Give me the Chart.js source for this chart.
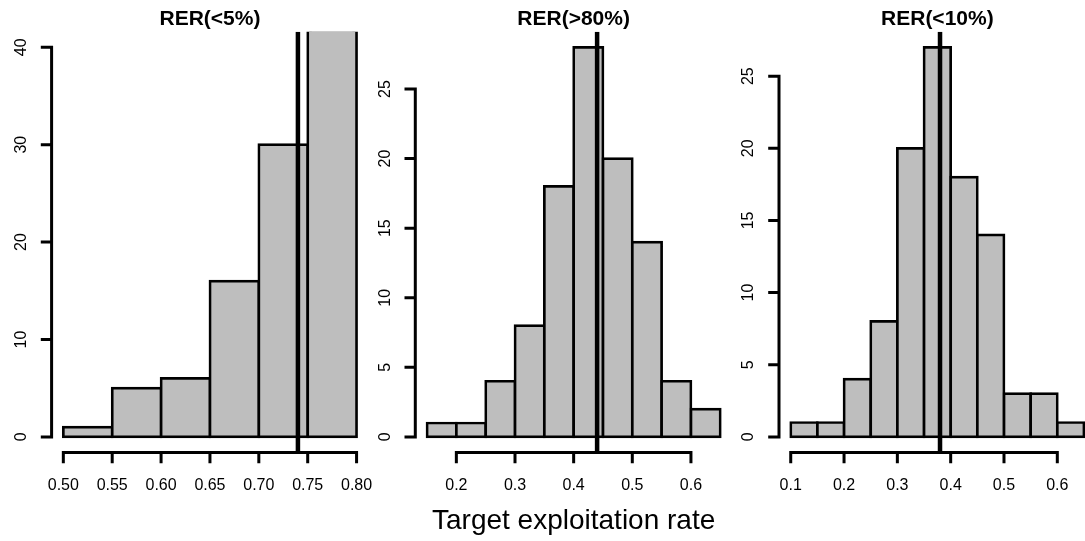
<!DOCTYPE html>
<html>
<head>
<meta charset="utf-8">
<script src="https://cdn.jsdelivr.net/npm/chart.js@4.4.1/dist/chart.umd.min.js"></script>
<style>
  html, body { margin: 0; padding: 0; background: #ffffff; width: 1085px; height: 541px; overflow: hidden; }
  #wrap { position: relative; width: 1085px; height: 541px; overflow: hidden; }
  #wrap canvas { position: absolute; left: 0; top: 0; }
</style>
</head>
<body>
<div id="wrap">
  <canvas id="c1" width="1110" height="541"></canvas>
  <canvas id="c2" width="1110" height="541"></canvas>
  <canvas id="c3" width="1110" height="541"></canvas>
</div>
<script>
// ---------------- DATA ----------------
const panelTitles = ['RER(<5%)', 'RER(>80%)', 'RER(<10%)'];
const xAxisTitle = 'Target exploitation rate';

const breaks1 = [0.50, 0.55, 0.60, 0.65, 0.70, 0.75, 0.80];
const counts1 = [1, 5, 6, 16, 30, 42];
const breaks2 = [0.15, 0.20, 0.25, 0.30, 0.35, 0.40, 0.45, 0.50, 0.55, 0.60, 0.65];
const counts2 = [1, 1, 4, 8, 18, 28, 20, 14, 4, 2];
const breaks3 = [0.10, 0.15, 0.20, 0.25, 0.30, 0.35, 0.40, 0.45, 0.50, 0.55, 0.60, 0.65];
const counts3 = [1, 1, 4, 8, 20, 27, 18, 14, 3, 3, 1];

const refValues = [0.74, 0.44, 0.38];

const xTicks1 = [0.50, 0.55, 0.60, 0.65, 0.70, 0.75, 0.80];
const xTickLabels1 = ['0.50', '0.55', '0.60', '0.65', '0.70', '0.75', '0.80'];
const xTicks2 = [0.2, 0.3, 0.4, 0.5, 0.6];
const xTickLabels2 = ['0.2', '0.3', '0.4', '0.5', '0.6'];
const xTicks3 = [0.1, 0.2, 0.3, 0.4, 0.5, 0.6];
const xTickLabels3 = ['0.1', '0.2', '0.3', '0.4', '0.5', '0.6'];

const yTicks1 = [0, 10, 20, 30, 40];
const yTicks2 = [0, 5, 10, 15, 20, 25];
const yTicks3 = [0, 5, 10, 15, 20, 25];

// axis ranges (R style: limits extended by 4%)
const xRange1 = [0.488, 0.812], yRange1 = [-1.6, 41.6];
const xRange2 = [0.13, 0.67],   yRange2 = [-1.12, 29.12];
const xRange3 = [0.078, 0.672], yRange3 = [-1.08, 28.08];

// ---------------- LAYOUT / STYLE ----------------
const CW = 1110, CH = 541;
const plotTop = 31.7, plotBottom = 452.5;
const plotLefts = [51.6, 415.3, 779];
const plotWidth = 316.7;
const FONT = '"Liberation Sans", Arial, Helvetica, sans-serif';
const BAR_FILL = '#bebebe';
const BAR_BORDER = 2.7;
const AXIS_LW = 3;
const TICK_LEN = 10.8;
const titleCenterY = 19.5;
const xLabelCenterY = 521;

Chart.defaults.font.family = FONT;

function mids(b) {
  const out = [];
  for (let i = 0; i < b.length - 1; i++) out.push((b[i] + b[i + 1]) / 2);
  return out;
}

function axesPlugin(p) {
  return {
    id: 'rAxes' + p.id,
    afterDraw(chart) {
      const { ctx, chartArea: a } = chart;
      const xs = chart.scales.x, ys = chart.scales.y;
      ctx.save();
      ctx.strokeStyle = '#000';
      ctx.fillStyle = '#000';
      ctx.lineWidth = AXIS_LW;
      ctx.lineJoin = 'miter';
      ctx.lineCap = 'butt';
      // x axis
      const xp = p.xTicks.map(v => xs.getPixelForValue(v));
      const yb = a.bottom;
      ctx.beginPath();
      ctx.moveTo(xp[0], yb + TICK_LEN);
      ctx.lineTo(xp[0], yb);
      ctx.lineTo(xp[xp.length - 1], yb);
      ctx.lineTo(xp[xp.length - 1], yb + TICK_LEN);
      for (let i = 1; i < xp.length - 1; i++) {
        ctx.moveTo(xp[i], yb);
        ctx.lineTo(xp[i], yb + TICK_LEN);
      }
      ctx.stroke();
      ctx.font = '16px ' + FONT;
      ctx.textAlign = 'center';
      ctx.textBaseline = 'middle';
      p.xLabels.forEach((t, i) => ctx.fillText(t, xp[i], yb + 33));
      // y axis
      const yp = p.yTicks.map(v => ys.getPixelForValue(v));
      const xl = a.left;
      ctx.beginPath();
      ctx.moveTo(xl - TICK_LEN, yp[0]);
      ctx.lineTo(xl, yp[0]);
      ctx.lineTo(xl, yp[yp.length - 1]);
      ctx.lineTo(xl - TICK_LEN, yp[yp.length - 1]);
      for (let i = 1; i < yp.length - 1; i++) {
        ctx.moveTo(xl, yp[i]);
        ctx.lineTo(xl - TICK_LEN, yp[i]);
      }
      ctx.stroke();
      p.yTicks.forEach((v, i) => {
        ctx.save();
        ctx.translate(xl - 30, yp[i]);
        ctx.rotate(-Math.PI / 2);
        ctx.fillText(String(v), 0, 0);
        ctx.restore();
      });
      ctx.restore();
    }
  };
}

const panels = [
  { id: 1, canvas: 'c1', title: panelTitles[0], breaks: breaks1, counts: counts1, ref: refValues[0],
    xTicks: xTicks1, xLabels: xTickLabels1, yTicks: yTicks1, xRange: xRange1, yRange: yRange1, left: plotLefts[0], xlab: false },
  { id: 2, canvas: 'c2', title: panelTitles[1], breaks: breaks2, counts: counts2, ref: refValues[1],
    xTicks: xTicks2, xLabels: xTickLabels2, yTicks: yTicks2, xRange: xRange2, yRange: yRange2, left: plotLefts[1], xlab: true },
  { id: 3, canvas: 'c3', title: panelTitles[2], breaks: breaks3, counts: counts3, ref: refValues[2],
    xTicks: xTicks3, xLabels: xTickLabels3, yTicks: yTicks3, xRange: xRange3, yRange: yRange3, left: plotLefts[2], xlab: false }
];

panels.forEach(p => {
  const m = mids(p.breaks);
  const barData = p.counts.map((c, i) => ({ x: m[i], y: c }));
  const lineData = [{ x: p.ref, y: p.yRange[0] }, { x: p.ref, y: p.yRange[1] }];

  const titleLH = 1.1, titleSize = 21;
  const titlePadTop = titleCenterY - titleSize * titleLH / 2;
  const titlePadBottom = plotTop - titlePadTop - titleSize * titleLH;

  const subSize = 28, subLH = 1.2;
  const subPadTop = xLabelCenterY - plotBottom - subSize * subLH / 2;
  const bottomPad = p.xlab ? (CH - xLabelCenterY - subSize * subLH / 2) : (CH - plotBottom);

  new Chart(document.getElementById(p.canvas), {
    type: 'bar',
    data: {
      datasets: [
        {
          type: 'line',
          data: lineData,
          borderColor: '#000',
          borderWidth: 4.5,
          pointRadius: 0,
          fill: false,
          clip: 0,
          order: 0
        },
        {
          type: 'bar',
          data: barData,
          backgroundColor: BAR_FILL,
          borderColor: '#000',
          borderWidth: BAR_BORDER,
          borderSkipped: false,
          inflateAmount: BAR_BORDER / 2,
          barPercentage: 1,
          categoryPercentage: 1,
          clip: 0,
          order: 1
        }
      ]
    },
    options: {
      responsive: false,
      animation: false,
      devicePixelRatio: 1,
      events: [],
      layout: {
        autoPadding: false,
        padding: { left: p.left, right: CW - p.left - plotWidth, top: 0, bottom: bottomPad }
      },
      scales: {
        x: {
          type: 'linear',
          display: false,
          offset: false,
          min: p.xRange[0],
          max: p.xRange[1],
          afterBuildTicks: s => { s.ticks = p.xTicks.map(v => ({ value: v })); }
        },
        y: {
          type: 'linear',
          display: false,
          min: p.yRange[0],
          max: p.yRange[1]
        }
      },
      plugins: {
        legend: { display: false },
        tooltip: { enabled: false },
        title: {
          display: true,
          text: p.title,
          color: '#000',
          font: { family: FONT, size: titleSize, weight: 'bold', lineHeight: titleLH },
          padding: { top: titlePadTop, bottom: titlePadBottom }
        },
        subtitle: {
          display: p.xlab,
          position: 'bottom',
          text: xAxisTitle,
          color: '#000',
          font: { family: FONT, size: subSize, weight: 'normal', lineHeight: subLH },
          padding: { top: subPadTop, bottom: 0 }
        }
      }
    },
    plugins: [axesPlugin(p)]
  });
});
</script>
</body>
</html>
